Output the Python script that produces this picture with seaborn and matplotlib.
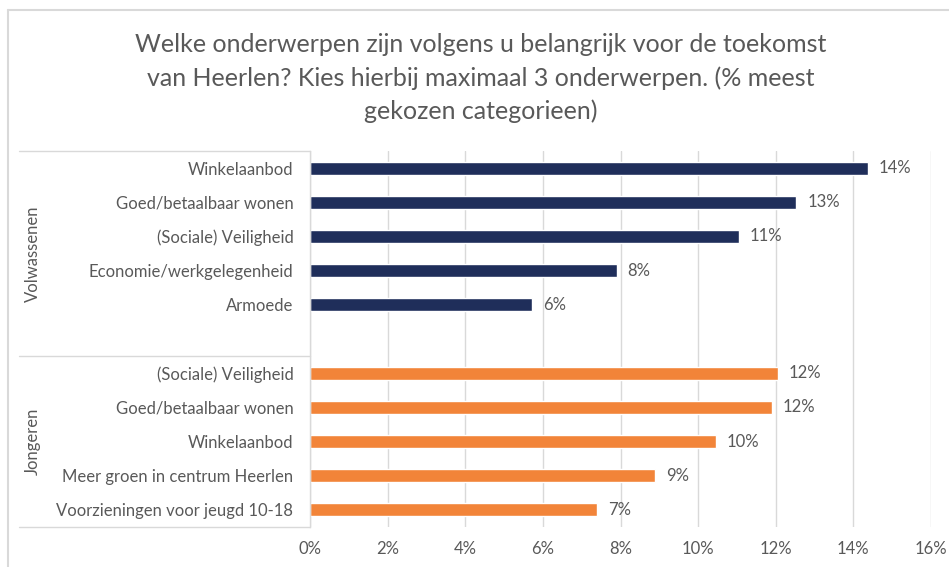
import pandas as pd
import matplotlib.pyplot as plt
import seaborn as sns
from matplotlib.lines import Line2D
from matplotlib.ticker import PercentFormatter, MultipleLocator
from matplotlib.transforms import blended_transform_factory

# Data (percentages)
groepen = ['Volwassenen', 'Jongeren']
onderwerpen_volw = ['Winkelaanbod', 'Goed/betaalbaar wonen', '(Sociale) Veiligheid',
                    'Economie/werkgelegenheid', 'Armoede']
waarden_volw = [14.37, 12.53, 11.05, 7.90, 5.72]
onderwerpen_jong = ['(Sociale) Veiligheid', 'Goed/betaalbaar wonen', 'Winkelaanbod',
                    'Meer groen in centrum Heerlen', 'Voorzieningen voor jeugd 10-18']
waarden_jong = [12.05, 11.90, 10.45, 8.88, 7.40]
kleuren = {'Volwassenen': '#1F2E5A', 'Jongeren': '#F28439'}
titel = ('Welke onderwerpen zijn volgens u belangrijk voor de toekomst\n'
         'van Heerlen? Kies hierbij maximaal 3 onderwerpen. (% meest\n'
         'gekozen categorieen)')

GRIJS = '#595959'
LIJN = '#D9D9D9'

# Table with unique keys per group, plus an empty slot between the groups
df = pd.DataFrame({
    'groep': ['Volwassenen'] * len(onderwerpen_volw) + ['Jongeren'] * len(onderwerpen_jong),
    'onderwerp': onderwerpen_volw + onderwerpen_jong,
    'waarde': waarden_volw + waarden_jong,
})
df['sleutel'] = df['groep'].str[0] + '|' + df['onderwerp']
volgorde = list(df['sleutel'][:5]) + [' '] + list(df['sleutel'][5:])

sns.set_style('white')
plt.rcParams['font.family'] = ['Lato', 'DejaVu Sans']

fig = plt.figure(figsize=(9.49, 5.67), dpi=100)
ax = fig.add_axes([310 / 949, 1 - 527 / 567, 621 / 949, 376 / 567])

sns.barplot(data=df, y='sleutel', x='waarde', hue='groep', order=volgorde,
            palette=kleuren, dodge=False, width=0.38, legend=False, ax=ax,
            saturation=1, errorbar=None)

for c in ax.containers:
    ax.bar_label(c, labels=[f'{v:.0f}%' for v in c.datavalues], padding=8,
                 fontsize=12, color=GRIJS)

ax.set_xlim(0, 16)
ax.set_ylim(10.5, -0.5)
ax.xaxis.set_major_locator(MultipleLocator(2))
ax.xaxis.set_major_formatter(PercentFormatter(100, decimals=0))
ax.set_yticks(range(len(volgorde)))
ax.set_yticklabels([s.split('|')[-1] if '|' in s else '' for s in volgorde])
ax.set_xlabel('')
ax.set_ylabel('')
ax.tick_params(axis='both', length=0, labelsize=12, labelcolor=GRIJS)
ax.tick_params(axis='y', pad=12)
ax.tick_params(axis='x', pad=10)
ax.grid(axis='x', color=LIJN, linewidth=1)
ax.set_axisbelow(True)
for kant in ['top', 'right', 'bottom']:
    ax.spines[kant].set_visible(False)
ax.spines['left'].set_color(LIJN)
ax.spines['left'].set_linewidth(1)

# Multi-level category box
trans = blended_transform_factory(ax.transAxes, ax.transData)
links = (19 - 310) / 621
for y in [-0.5, 5.5, 10.5]:
    ax.plot([links, 0], [y, y], color=LIJN, lw=1, transform=trans, clip_on=False)
x_groep = (33 - 310) / 621
ax.text(x_groep, 2.5, groepen[0], rotation=90, ha='center', va='center',
        fontsize=12, color=GRIJS, transform=trans)
ax.text(x_groep, 8.0, groepen[1], rotation=90, ha='center', va='center',
        fontsize=12, color=GRIJS, transform=trans)

# Title and outer chart border
fig.text(481 / 949, 1 - 78 / 567, titel, ha='center', va='center', fontsize=18,
         color=GRIJS, linespacing=1.5)
fig.add_artist(Line2D([8 / 949, 1], [1 - 10 / 567] * 2, color=LIJN, lw=1.5))
fig.add_artist(Line2D([8 / 949] * 2, [0, 1 - 10 / 567], color=LIJN, lw=1.5))

fig.savefig('out.png', dpi=100)
